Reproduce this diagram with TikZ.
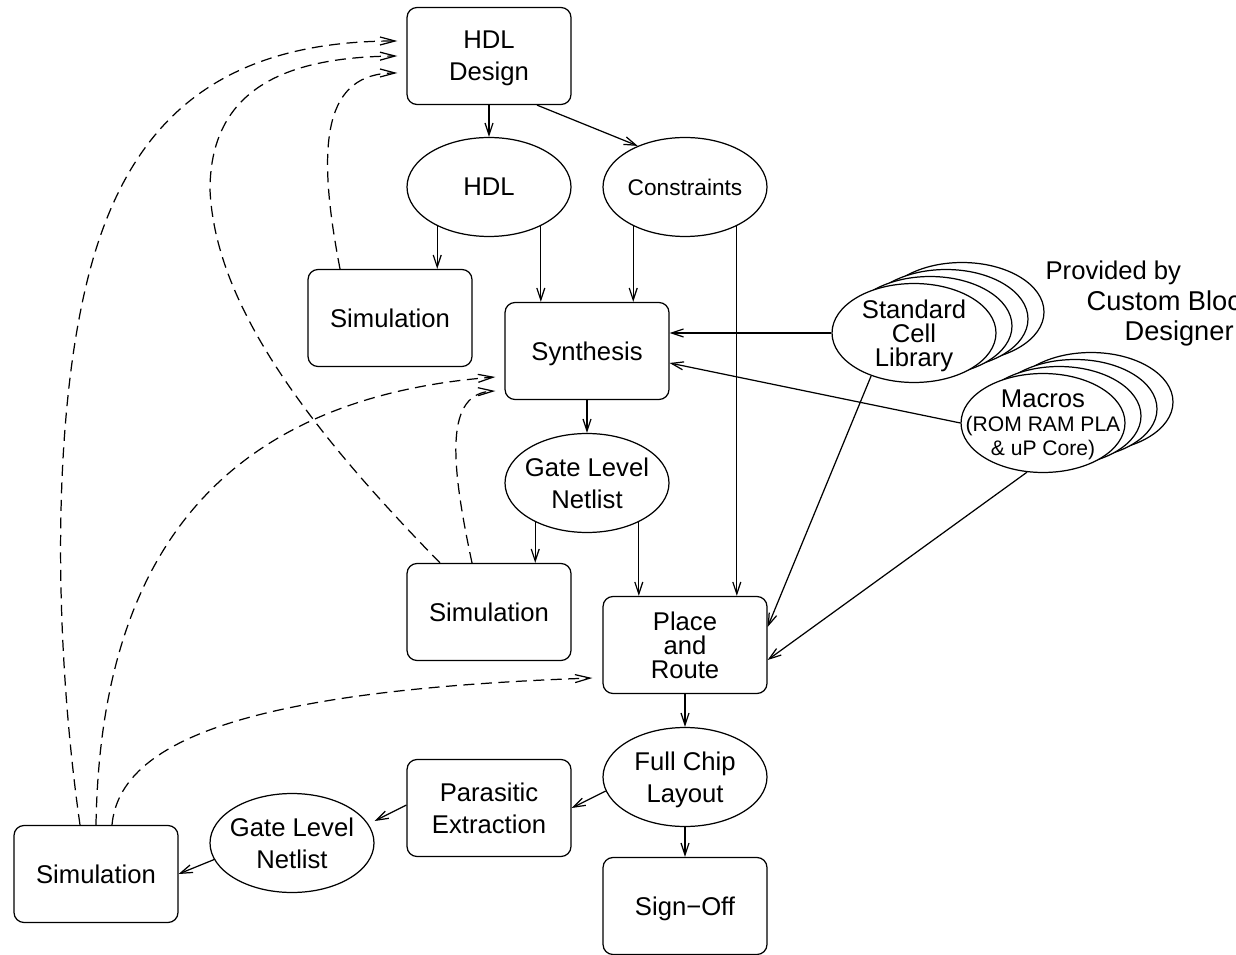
\documentclass[tikz,border=0pt]{standalone}
\usepackage{fontspec}
\setmainfont{Liberation Sans}
\usetikzlibrary{arrows.meta,shapes.geometric}

\newcommand{\macrofont}{\fontsize{12}{14}\selectfont}

\begin{document}
\begin{tikzpicture}[x=0.02cm, y=-0.02cm, line width=0.7pt,
    every node/.style={font=\fontsize{14.6}{18.2}\selectfont, align=center, text depth=0pt},
    box/.style={draw, rounded corners=0.2cm, minimum width=3.28cm, minimum height=1.94cm, inner sep=0pt},
    oval/.style={draw, ellipse, minimum width=3.28cm, minimum height=1.98cm, inner sep=-0.45cm},
    libell/.style={oval, fill=white},
    tight/.style={font=\fontsize{14.6}{13.7}\selectfont},
    arr/.style={-{Straight Barb[length=2.4mm,width=1.6mm]}},
    fb/.style={-{Straight Barb[length=3mm,width=1.6mm]}, dash pattern=on 2.2mm off 1.3mm}]
  \useasboundingbox (0,0) rectangle (1236,955);

  \node[box] (hdldes) at (489,56) {HDL\\Design};
  \node[oval] (hdl) at (489,187) {HDL};
  \node[oval, font=\fontsize{12.9}{15}\selectfont] (cons) at (685,187) {Constraints};
  \node[box] (simA) at (390,318) {Simulation};
  \node[box] (synth) at (587,351) {Synthesis};
  \node[oval] (gln) at (587,483) {Gate Level\\Netlist};
  \node[box] (simB) at (489,612) {Simulation};
  \node[box, tight] (pnr) at (685,645) {Place\\and\\Route};
  \node[oval] (chip) at (685,777) {Full Chip\\Layout};
  \node[box] (para) at (489,808) {Parasitic\\Extraction};
  \node[oval] (glnB) at (292,843) {Gate Level\\Netlist};
  \node[box] (simC) at (96,874) {Simulation};
  \node[box] (signoff) at (685,906) {Sign−Off};

  \foreach \i in {3,2,1} {
    \node[libell] at ({914+16*\i},{333-7*\i}) {};
    \node[libell] at ({1043+16*\i},{423-7*\i}) {};
  }
  \node[libell, tight] (stdcell) at (914,333) {Standard\\Cell\\Library};
  \node[libell, tight] (macros) at (1043,423) {Macros\\{\macrofont (ROM RAM PLA}\\{\macrofont \& uP Core)}};

  \node[anchor=base west, inner sep=0pt] (prov) at (1045,280) {Provided by};
  \node[anchor=base west, inner sep=0pt, font=\fontsize{15.5}{18}\selectfont] (provB) at (1086,311) {Custom Block};
  \node[anchor=base west, inner sep=0pt, font=\fontsize{15.5}{18}\selectfont] (provC) at (1124,341) {Designer};

  \draw[arr] (hdldes) -- (hdl);
  \draw[arr] ([xshift=0.96cm]hdldes.south) -- (cons.139);
  \draw[arr] (hdl.217) -- (hdl.217 |- simA.north);
  \draw[arr] (hdl.323) -- (hdl.323 |- synth.north);
  \draw[arr] (cons.217) -- (cons.217 |- synth.north);
  \draw[arr] (cons.323) -- (cons.323 |- pnr.north);
  \draw[arr] (synth) -- (gln);
  \draw[arr] (gln.217) -- (gln.217 |- simB.north);
  \draw[arr] (gln.323) -- (gln.323 |- pnr.north);
  \draw[arr] (stdcell.west) -- (stdcell.west -| synth.east);
  \draw[arr] (macros.west) -- ([yshift=-0.24cm]synth.east);
  \draw[arr] (stdcell.225) -- ([yshift=0.36cm]pnr.east);
  \draw[arr] (macros.252) -- ([yshift=-0.3cm]pnr.east);
  \draw[arr] (pnr) -- (chip);
  \draw[arr] (chip.190) -- (para.east);
  \draw[arr] (chip) -- (signoff);
  \draw[arr] ([yshift=0.06cm]para.west) -- ([yshift=0.44cm]glnB.east);
  \draw[arr] (glnB.192) -- (simC.east);

  \draw[fb] ([xshift=-0.32cm]simC.north) .. controls (55,650) and (50,420) .. (90,270)
    .. controls (130,120) and (220,41) .. ([xshift=-0.18cm,yshift=0.3cm]hdldes.west);
  \draw[fb] ([xshift=-0.98cm]simB.north) .. controls (300,420) and (215,300) .. (210,190)
    .. controls (210,80) and (300,57) .. ([xshift=-0.18cm]hdldes.west);
  \draw[fb] ([xshift=-1cm]simA.north) .. controls (315,140) and (325,73) .. ([xshift=-0.18cm,yshift=-0.34cm]hdldes.west);
  \draw[fb] ([xshift=-0.34cm]simB.north) .. controls (450,460) and (445,393) .. ([xshift=-0.18cm,yshift=-0.8cm]synth.west);
  \draw[fb] (simC.north) .. controls (100,580) and (200,400) .. ([xshift=-0.18cm,yshift=-0.52cm]synth.west);
  \draw[fb] ([xshift=0.32cm]simC.north) .. controls (120,740) and (250,690) .. ([xshift=-0.2cm,yshift=-0.66cm]pnr.west);
\end{tikzpicture}
\end{document}
